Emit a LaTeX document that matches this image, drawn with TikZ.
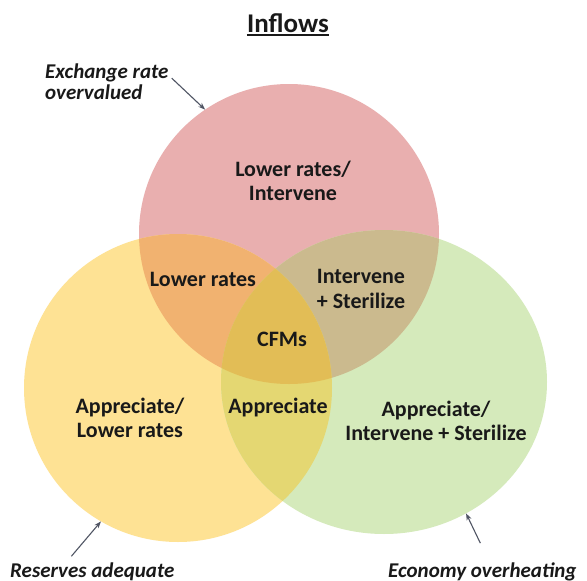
\documentclass[tikz,border=0pt]{standalone}
\usepackage{fontspec}
\setmainfont{Carlito}
\usetikzlibrary{arrows.meta,shapes.geometric}
\definecolor{redc}{RGB}{233,175,175}
\definecolor{yelc}{RGB}{254,226,148}
\definecolor{grnc}{RGB}{213,234,187}
\definecolor{ryc}{RGB}{241,178,112}
\definecolor{rgc}{RGB}{203,186,142}
\definecolor{ygc}{RGB}{228,215,114}
\definecolor{allc}{RGB}{226,189,86}
\definecolor{txtc}{RGB}{25,25,25}
\definecolor{arrc}{RGB}{80,85,100}
\begin{document}
\begin{tikzpicture}[x=1pt,y=-1pt,
  lbl/.style={font=\fontsize{22}{24.5}\selectfont\bfseries, align=center, inner sep=0pt, text=txtc},
  note/.style={font=\fontsize{21}{21}\selectfont\bfseries\itshape, inner sep=0pt, text=txtc},
  arr/.style={draw=arrc, line width=1.1pt, -{Stealth[length=7pt,width=5pt]}},
  venn/.style={inner sep=0pt, outer sep=0pt}]
\useasboundingbox (0,0) rectangle (587,581);
\fill[white] (0,0) rectangle (587,581);
% base circles
\node[venn, circle, minimum size=300pt, fill=redc] (red) at (289,234) {};
\node[venn, circle, minimum size=308pt, fill=yelc] (yel) at (178,388) {};
\node[venn, ellipse, minimum width=326pt, minimum height=304pt, fill=grnc] (grn) at (384,382) {};
% overlaps
\begin{scope}
\clip (289,234) circle [radius=150pt];
\fill[ryc] (178,388) circle [radius=154pt];
\end{scope}
\begin{scope}
\clip (289,234) circle [radius=150pt];
\fill[rgc] (384,382) ellipse [x radius=163pt, y radius=152pt];
\end{scope}
\begin{scope}
\clip (178,388) circle [radius=154pt];
\fill[ygc] (384,382) ellipse [x radius=163pt, y radius=152pt];
\end{scope}
\begin{scope}
\clip (289,234) circle [radius=150pt];
\clip (178,388) circle [radius=154pt];
\fill[allc] (384,382) ellipse [x radius=163pt, y radius=152pt];
\end{scope}
% title
\node[inner sep=0pt, text=txtc, font=\fontsize{27}{30}\selectfont\bfseries, anchor=base] (inflows) at (288,32) {Inflows};
\draw[txtc, line width=1.3pt] ([yshift=-3pt]inflows.base west) -- ([yshift=-3pt]inflows.base east);
% region labels
\node[lbl] (tred) at (293,181) {Lower rates/\\Intervene};
\node[lbl] (try) at (203,279) {Lower rates};
\node[lbl] (trg) at (361,289) {Intervene\\+ Sterilize};
\node[lbl] (tall) at (282,339) {CFMs};
\node[lbl] (tyg) at (278,408) {Appreciate};
\node[lbl] (tyel) at (130,418) {Appreciate/\\Lower rates};
\node[lbl] (tgrn) at (436,421) {Appreciate/\\Intervene + Sterilize};
% annotations
\node[note, align=left, anchor=north west] (exch) at (45,64) {Exchange rate\\overvalued};
\node[note, anchor=west] (res) at (10,571.5) {Reserves adequate};
\node[note, anchor=west] (eco) at (388,571.5) {Economy overheating};
\draw[arr] ([xshift=3pt,yshift=4pt]exch.east) -- (red.124);
\draw[arr] ([xshift=-21pt,yshift=6pt]res.north) -- (yel.240);
\draw[arr] ([xshift=-2pt,yshift=19pt]eco.north) -- (grn.-58);
\end{tikzpicture}
\end{document}
